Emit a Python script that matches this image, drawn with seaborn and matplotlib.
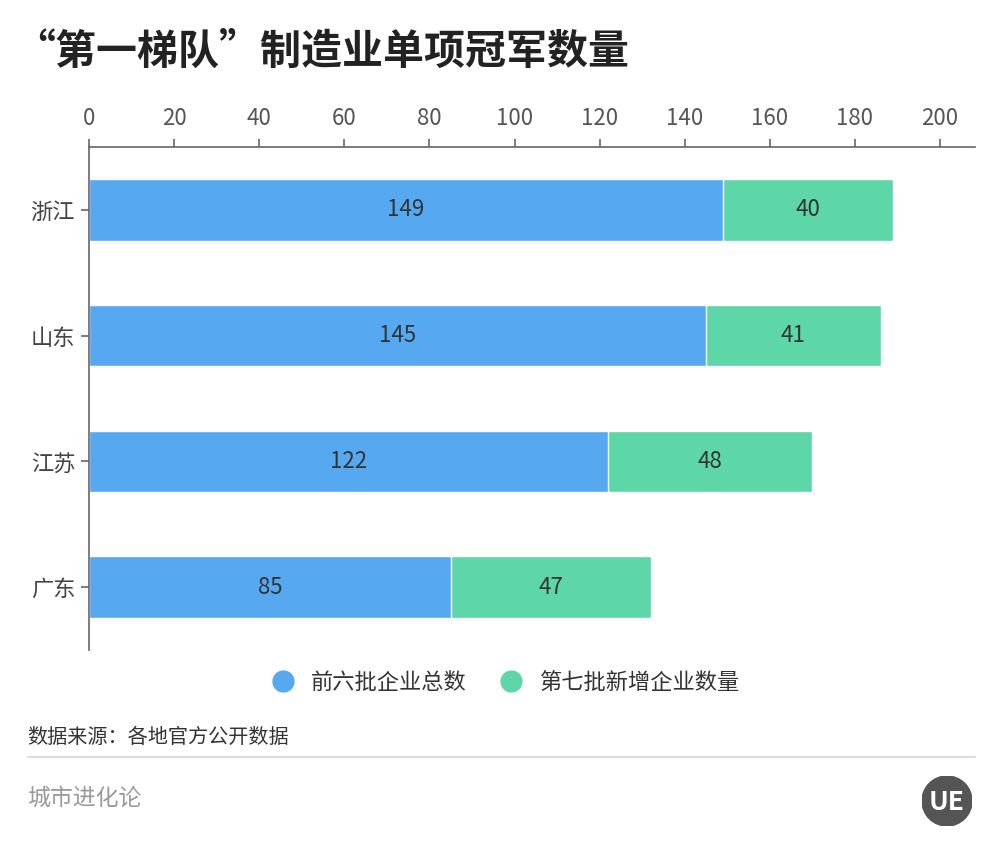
import matplotlib
matplotlib.use("Agg")
import matplotlib.pyplot as plt
import seaborn as sns
import pandas as pd
from matplotlib.lines import Line2D
from matplotlib.patches import Circle

provinces = ["浙江", "山东", "江苏", "广东"]
first_six = [149, 145, 122, 85]
seventh = [40, 41, 48, 47]
xticks = [0, 20, 40, 60, 80, 100, 120, 140, 160, 180, 200]
series_names = ["前六批企业总数", "第七批新增企业数量"]

BLUE = "#56a9f1"
GREEN = "#5dd7a7"
FONT = ["Noto Sans CJK SC", "DejaVu Sans"]

sns.set_theme(style="white")
plt.rcParams["font.family"] = FONT

df = pd.DataFrame({"province": provinces, "a": first_six, "b": seventh})
df["total"] = df["a"] + df["b"]

fig = plt.figure(figsize=(10, 8.5), dpi=100)
ax = fig.add_axes([0.089, 1 - 650 / 850, 0.975 - 0.089, (650 - 147) / 850])

sns.barplot(data=df, x="total", y="province", color=GREEN, width=0.49,
            saturation=1, ax=ax, orient="h")
sns.barplot(data=df, x="a", y="province", color=BLUE, width=0.49,
            saturation=1, ax=ax, orient="h")

for i, (a, b) in enumerate(zip(first_six, seventh)):
    ax.text(a / 2, i, str(a), ha="center", va="center", fontsize=16, color="#333333")
    ax.text(a + b / 2, i, str(b), ha="center", va="center", fontsize=16, color="#333333")

ax.set_xlim(0, 208.2)
ax.set_ylim(3.5, -0.5)
ax.set_xticks(xticks)
ax.xaxis.tick_top()
ax.set_xlabel("")
ax.set_ylabel("")
for s in ["right", "bottom"]:
    ax.spines[s].set_visible(False)
for s in ["top", "left"]:
    ax.spines[s].set_color("#666666")
    ax.spines[s].set_linewidth(1.2)
ax.tick_params(axis="x", which="both", top=True, bottom=False, length=6, width=1.2,
               color="#666666", labelsize=16, labelcolor="#555555", pad=6)
ax.tick_params(axis="y", left=True, length=6, width=1.2, color="#666666",
               labelsize=16, labelcolor="#444444", pad=4)

fig.text(0.014, 1 - 52 / 850, "“第一梯队”制造业单项冠军数量", fontsize=29.5, fontweight="bold",
         color="#222222", ha="left", va="center")

handles = [Line2D([0], [0], marker="o", color="none", markerfacecolor=c, markeredgecolor=c,
                  markersize=15) for c in (BLUE, GREEN)]
fig.legend(handles, series_names, loc="center", bbox_to_anchor=(0.5, 1 - 682 / 850),
           ncol=2, frameon=False, fontsize=16, handletextpad=0.25, columnspacing=1.0,
           labelcolor="#333333")

fig.text(0.027, 1 - 737 / 850, "数据来源：各地官方公开数据", fontsize=14.5, color="#333333",
         ha="left", va="center")
fig.add_artist(Line2D([0.028, 0.975], [1 - 757 / 850] * 2, color="#dddddd", lw=1.5))
fig.text(0.027, 1 - 798 / 850, "城市进化论", fontsize=16.5, color="#999999",
         ha="left", va="center")

logo_ax = fig.add_axes([0.922, 1 - 826 / 850, 0.05, 0.05 * 10 / 8.5])
logo_ax.set_xlim(-1, 1)
logo_ax.set_ylim(-1, 1)
logo_ax.set_aspect("equal")
logo_ax.axis("off")
logo_ax.add_patch(Circle((0, 0), 1, color="#555555"))
logo_ax.text(0, -0.05, "UE", fontsize=19, fontweight="bold", color="white",
             ha="center", va="center")

fig.savefig("out.png", dpi=100)
